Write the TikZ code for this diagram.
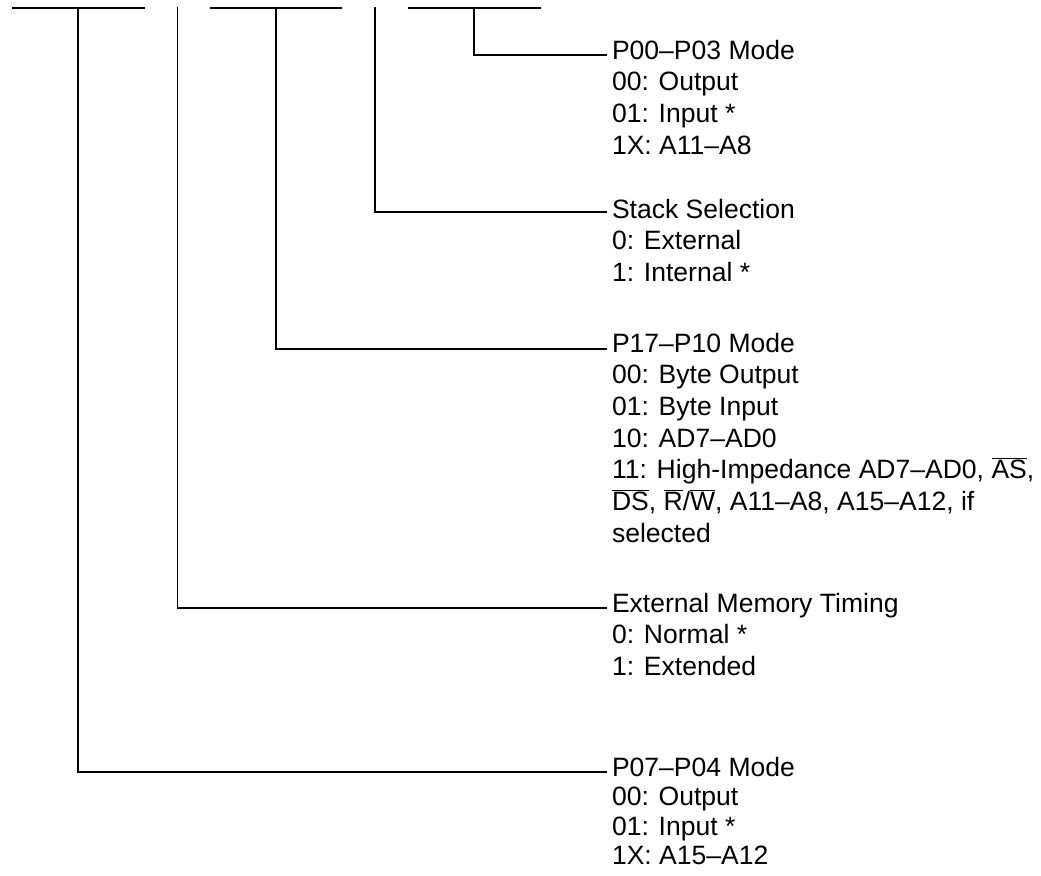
\documentclass[tikz,border=0pt]{standalone}
\usepackage{fontspec}
\setmainfont{Liberation Sans}
\newcommand\ovl[1]{$\overline{\mbox{#1}}$}
\begin{document}
\begin{tikzpicture}[x=0.75pt,y=-0.75pt,
  wire/.style={line width=1.1pt},
  lbl/.style={anchor=base west, inner sep=0pt, outer sep=0pt,
    font=\fontsize{19.9}{23.8}\selectfont},
  lbltight/.style={lbl, font=\fontsize{19.9}{22.2}\selectfont}]
\useasboundingbox (0,0) rectangle (1041,875);
% top field lines
\coordinate (t1a) at (12,8);  \coordinate (t1b) at (145,8);
\coordinate (t2a) at (210,8); \coordinate (t2b) at (342,8);
\coordinate (t3a) at (408,8); \coordinate (t3b) at (541,8);
\draw[wire] (t1a) -- (t1b);
\draw[wire] (t2a) -- (t2b);
\draw[wire] (t3a) -- (t3b);
% branch starts
\coordinate (s0) at (474,7);
\coordinate (s1) at (375,7);
\coordinate (s2) at (276,7);
\coordinate (s3) at (177.5,7);
\coordinate (s4) at (78,7);
% branch ends
\coordinate (e0) at (607,55);
\coordinate (e1) at (607,212);
\coordinate (e2) at (607,349);
\coordinate (e3) at (607,608);
\coordinate (e4) at (607,772);
% labels
\node[lbl] (l0) at (612,59) {\begin{tabular}[t]{@{}l@{}}P00–P03 Mode\\00: Output\\01: Input *\\1X: A11–A8\end{tabular}};
\node[lbl] (l1) at (612,218) {\begin{tabular}[t]{@{}l@{}}Stack Selection\\0: External\\1: Internal *\end{tabular}};
\node[lbl] (l2) at (612,352) {\begin{tabular}[t]{@{}l@{}}P17–P10 Mode\\00: Byte Output\\01: Byte Input\\10: AD7–AD0\\11: High-Impedance AD7–AD0, \ovl{AS},\\\ovl{DS}, \ovl{R}/\ovl{W}, A11–A8, A15–A12, if\\selected\end{tabular}};
\node[lbl] (l3) at (612,612) {\begin{tabular}[t]{@{}l@{}}External Memory Timing\\0: Normal *\\1: Extended\end{tabular}};
\node[lbltight] (l4) at (612,776) {\begin{tabular}[t]{@{}l@{}}P07–P04 Mode\\00: Output\\01: Input *\\1X: A15–A12\end{tabular}};
% connectors
\draw[wire] (s0) |- (e0);
\draw[wire] (s1) |- (e1);
\draw[wire] (s2) |- (e2);
\draw[wire] (s3) |- (e3);
\draw[wire] (s4) |- (e4);
\end{tikzpicture}
\end{document}
